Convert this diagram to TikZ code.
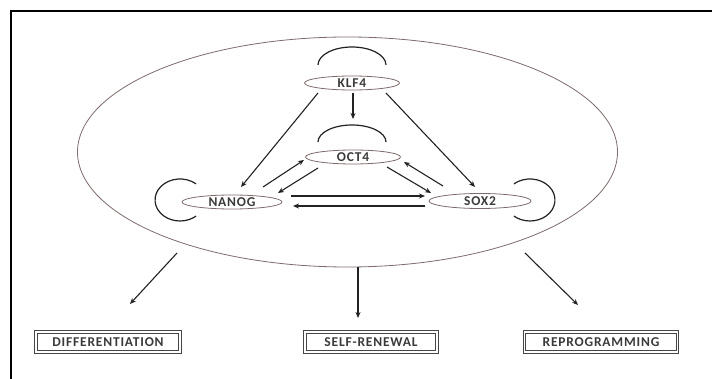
\documentclass[tikz,border=0pt]{standalone}
\usepackage{fontspec}
\setmainfont{Carlito}
\newfontfamily\lblfont[LetterSpace=6]{Carlito}
\usetikzlibrary{shapes.geometric,arrows.meta,calc}
\definecolor{ellcol}{HTML}{7D6B6B}
\definecolor{txtcol}{HTML}{3A3A3A}
\definecolor{arrcol}{HTML}{222222}
\tikzset{
  gene/.style={draw=ellcol, line width=0.8pt, ellipse, inner sep=0pt, minimum width=96pt, minimum height=14pt, font=\lblfont\fontsize{13.5}{15}\selectfont\bfseries, text=txtcol},
  outbox/.style={draw=gray!55!black, line width=0.9pt, double=white, double distance=1.4pt, inner sep=0pt, minimum height=20pt, font=\lblfont\fontsize{13.5}{15}\selectfont\bfseries, text=txtcol},
  arr/.style={draw=arrcol, line width=1.1pt, -{Stealth[length=6pt,width=5pt]}},
  loopline/.style={draw=arrcol, line width=1.2pt},
}
\begin{document}
\begin{tikzpicture}[x=1pt,y=-1pt]
\useasboundingbox (0,0) rectangle (712,379);
% frame
\draw[line width=2pt] (11,380) -- (11,11) -- (713,11);
% cell
\node[draw=ellcol, line width=0.8pt, ellipse, inner sep=0pt, minimum width=540pt, minimum height=230pt] (cell) at (347.5,152) {};
% genes
\node[gene, minimum width=95pt] (klf) at (352,83) {KLF4};
\node[gene, minimum width=95pt] (oct) at (353,157) {OCT4};
\node[gene, minimum width=100pt] (nanog) at (232,202) {NANOG};
\node[gene, minimum width=102pt, minimum height=15pt] (sox) at (480,201) {SOX2};
% self loops
\draw[loopline] ($(klf)+(-34,-18)$) arc[start angle=180, end angle=360, x radius=34, y radius=18];
\draw[loopline] ($(oct)+(-35,-15)$) arc[start angle=180, end angle=360, x radius=34, y radius=17];
\draw[loopline] ($(nanog)+(-35.9,-18.1)$) arc[start angle=-50, end angle=-310, x radius=25, y radius=21];
\draw[loopline] ($(sox)+(33.9,-17.1)$) arc[start angle=-130, end angle=130, x radius=25, y radius=21];
% regulatory arrows
\draw[arr] ($(klf)+(1,10)$) -- ($(oct)+(0,-38)$);
\draw[arr] ($(klf)+(-34,10)$) -- ($(nanog)+(9,-15)$);
\draw[arr] ($(klf)+(34,10)$) -- ($(sox)+(-5,-14)$);
\draw[arr] ($(nanog)+(31,-15)$) -- ($(oct)+(-49,3)$);
\draw[arr] ($(oct)+(-35,11)$) -- ($(nanog)+(46,-9)$);
\draw[arr] ($(oct)+(34,10)$) -- ($(sox)+(-49,-8)$);
\draw[arr] ($(sox)+(-37,-15)$) -- ($(oct)+(51,5)$);
\draw[arr] ($(nanog)+(59,-6)$) -- ($(sox)+(-55,-5)$);
\draw[arr] ($(sox)+(-55,5)$) -- ($(nanog)+(61,4)$);
% outcomes
\node[outbox, minimum width=144pt] (diff) at (108,342) {DIFFERENTIATION};
\node[outbox, minimum width=132pt] (self) at (371,342) {SELF-RENEWAL};
\node[outbox, minimum width=153pt] (rep) at (601,342) {REPROGRAMMING};
\draw[arr] ($(cell)+(-170.5,101)$) -- ($(diff)+(22,-38)$);
\draw[arr] ($(cell)+(10.5,115)$) -- ($(self)+(-13,-24)$);
\draw[arr] ($(cell)+(177.5,101)$) -- ($(rep)+(-23,-37)$);
\end{tikzpicture}
\end{document}
